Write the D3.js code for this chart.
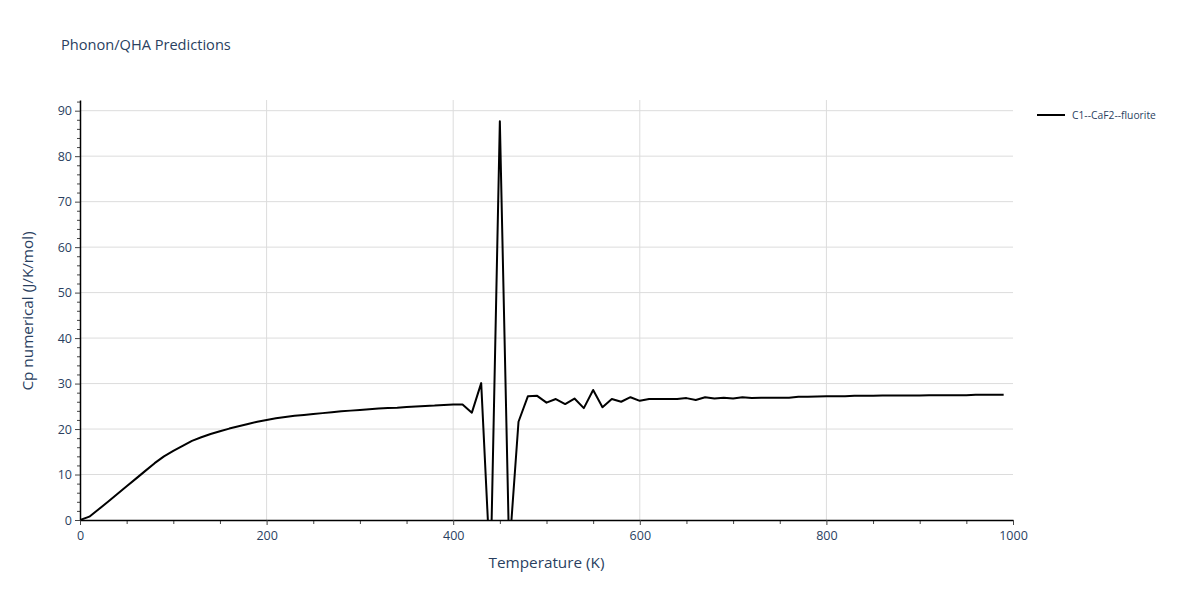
<!DOCTYPE html>
<html>
<head>
<meta charset="utf-8">
<script src="https://cdn.jsdelivr.net/npm/d3@7"></script>
<style>
  body { margin: 0; background: #fff; }
  svg { font-family: "Open Sans", "DejaVu Sans", sans-serif; }
</style>
</head>
<body>
<svg id="chart" width="1200" height="600"></svg>
<script>
// ---- data ----
const temperatures = d3.range(0, 1000, 10);
const cpValues = [
  0, 0.73, 2.35, 4.0, 5.7, 7.4, 9.1, 10.8, 12.5, 14.0,
  15.2, 16.3, 17.4, 18.2, 18.9, 19.5, 20.1, 20.6, 21.1, 21.6,
  22.0, 22.35, 22.65, 22.9, 23.1, 23.3, 23.5, 23.7, 23.9, 24.05,
  24.2, 24.35, 24.5, 24.6, 24.7, 24.85, 24.95, 25.05, 25.15, 25.3,
  25.4, 25.4, 23.6, 30.1, -12, 87.7, -7, 21.6, 27.2, 27.3,
  25.8, 26.6, 25.5, 26.7, 24.6, 28.6, 24.8, 26.6, 26.0, 27.0,
  26.2, 26.6, 26.6, 26.6, 26.6, 26.8, 26.4, 27.0, 26.7, 26.9,
  26.7, 27.0, 26.8, 26.9, 26.9, 26.9, 26.9, 27.1, 27.1, 27.15,
  27.2, 27.2, 27.2, 27.3, 27.3, 27.3, 27.35, 27.35, 27.4, 27.4,
  27.4, 27.45, 27.45, 27.45, 27.45, 27.45, 27.55, 27.55, 27.55, 27.55
];
const seriesName = "C1--CaF2--fluorite";
const xTickValues = [0, 200, 400, 600, 800, 1000];
const yTickValues = [0, 10, 20, 30, 40, 50, 60, 70, 80, 90];
const titleText = "Phonon/QHA Predictions";
const xTitle = "Temperature (K)";
const yTitle = "Cp numerical (J/K/mol)";

// ---- layout ----
const svg = d3.select("#chart");
const L = 80, R = 1013, T = 100, B = 520;
const textColor = "#2a3f5f";
const x = d3.scaleLinear().domain([0, 1000]).range([L, R]);
const y = d3.scaleLinear().domain([0, 92.35]).range([B, T]);

// gridlines
const grid = svg.append("g");
grid.selectAll("line.h").data(yTickValues.filter(d => d > 0)).enter().append("line")
  .attr("x1", L).attr("x2", R).attr("y1", d => y(d)).attr("y2", d => y(d))
  .attr("stroke", "#dcdcdc").attr("stroke-width", 1);
grid.selectAll("line.v").data(xTickValues.filter(d => d > 0 && d < 1000)).enter().append("line")
  .attr("y1", T).attr("y2", B).attr("x1", d => x(d)).attr("x2", d => x(d))
  .attr("stroke", "#dcdcdc").attr("stroke-width", 1);

// clip
svg.append("clipPath").attr("id", "clip").append("rect")
  .attr("x", L).attr("y", T).attr("width", R - L).attr("height", B - T);

// line
const data = temperatures.map((t, i) => ({ t, v: cpValues[i] }));
const line = d3.line().x(d => x(d.t)).y(d => y(d.v));
svg.append("path").datum(data)
  .attr("clip-path", "url(#clip)")
  .attr("d", line).attr("fill", "none")
  .attr("stroke", "#000").attr("stroke-width", 2).attr("stroke-linejoin", "round");

// x axis: minor ticks
const xMinor = d3.range(0, 1001, 50).filter(d => d % 200 !== 0);
svg.append("g").attr("transform", `translate(0,${B})`)
  .call(d3.axisBottom(x).tickValues(xMinor).tickSize(4).tickFormat(""))
  .call(g => g.select(".domain").remove())
  .call(g => g.selectAll("line").attr("stroke", "#444"));
const xAxis = svg.append("g").attr("transform", `translate(0,${B})`)
  .call(d3.axisBottom(x).tickValues(xTickValues).tickSize(5).tickSizeOuter(0).tickPadding(6).tickFormat(d3.format("d")));
xAxis.select(".domain").attr("stroke", "#000").attr("stroke-width", 1.5);
xAxis.selectAll("line").attr("stroke", "#444");
xAxis.selectAll("text").attr("fill", textColor).attr("font-size", 12.5)
  .attr("font-family", "'Open Sans', 'DejaVu Sans', sans-serif");

// y axis: minor ticks
const yMinor = d3.range(0, 92.1, 2).filter(d => d % 10 !== 0);
svg.append("g").attr("transform", `translate(${L},0)`)
  .call(d3.axisLeft(y).tickValues(yMinor).tickSize(3).tickFormat(""))
  .call(g => g.select(".domain").remove())
  .call(g => g.selectAll("line").attr("stroke", "#444"));
const yAxis = svg.append("g").attr("transform", `translate(${L},0)`)
  .call(d3.axisLeft(y).tickValues(yTickValues).tickSize(5).tickSizeOuter(0).tickPadding(3).tickFormat(d3.format("d")));
yAxis.select(".domain").attr("stroke", "#000").attr("stroke-width", 1.5);
yAxis.selectAll("line").attr("stroke", "#444");
yAxis.selectAll("text").attr("fill", textColor).attr("font-size", 12.5)
  .attr("font-family", "'Open Sans', 'DejaVu Sans', sans-serif");

// titles
svg.append("text").attr("x", 61).attr("y", 50).text(titleText)
  .attr("fill", textColor).attr("font-size", 14.6);
svg.append("text").attr("x", (L + R) / 2).attr("y", 568).attr("text-anchor", "middle")
  .text(xTitle).attr("fill", textColor).attr("font-size", 15.3);
svg.append("text").attr("transform", `translate(33,${(T + B) / 2 + 1}) rotate(-90)`)
  .attr("text-anchor", "middle").text(yTitle).attr("fill", textColor).attr("font-size", 15.3);

// legend
const lg = svg.append("g").attr("transform", "translate(1037,115)");
lg.append("line").attr("x1", 0).attr("x2", 28).attr("y1", 0).attr("y2", 0)
  .attr("stroke", "#000").attr("stroke-width", 2);
lg.append("text").attr("x", 35).attr("y", 4).text(seriesName)
  .attr("fill", textColor).attr("font-size", 10.3);
</script>
</body>
</html>
